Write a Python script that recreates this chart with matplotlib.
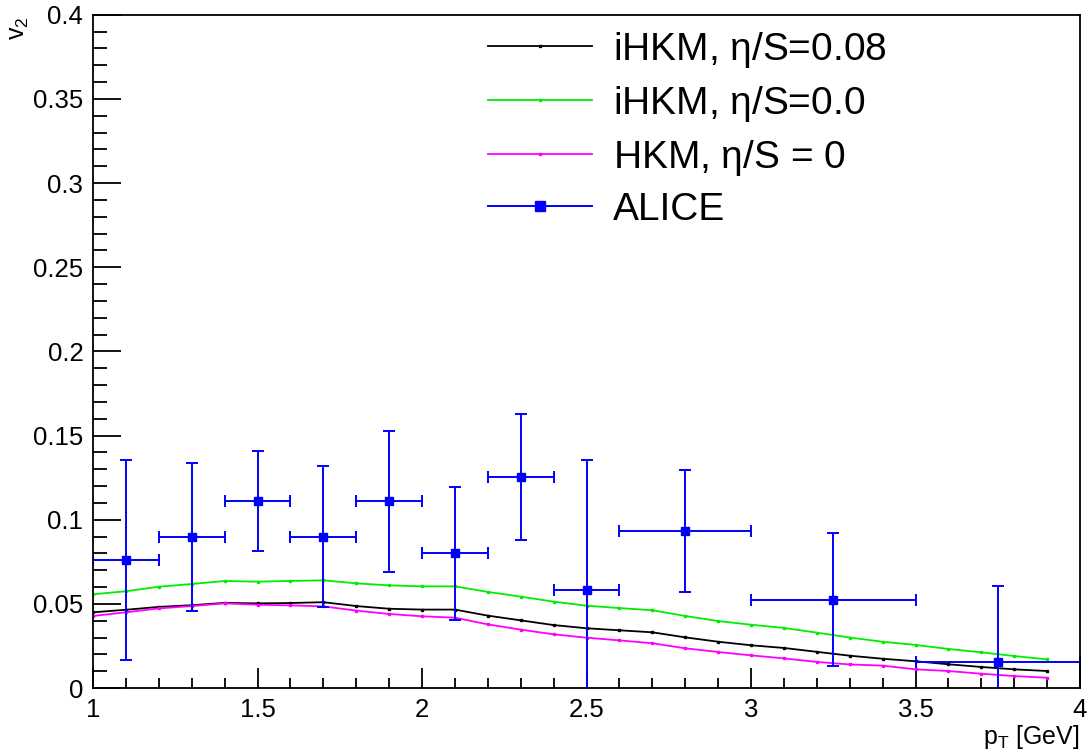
import numpy as np
import matplotlib
matplotlib.use('Agg')
from matplotlib import pyplot as plt
from matplotlib.ticker import MultipleLocator
from matplotlib.lines import Line2D

plt.rcParams['font.family'] = ['Liberation Sans', 'DejaVu Sans']
plt.rcParams['mathtext.fontset'] = 'custom'
plt.rcParams['mathtext.rm'] = 'Liberation Sans'
plt.rcParams['mathtext.it'] = 'Liberation Sans'

# model curves, pT grid 1.0 .. 3.9
pt = [1.0, 1.1, 1.2, 1.3, 1.4, 1.5, 1.6, 1.7, 1.8, 1.9, 2.0, 2.1, 2.2, 2.3, 2.4,
      2.5, 2.6, 2.7, 2.8, 2.9, 3.0, 3.1, 3.2, 3.3, 3.4, 3.5, 3.6, 3.7, 3.8, 3.9]
ihkm_008 = [0.0450, 0.0465, 0.0482, 0.0492, 0.0506, 0.0503, 0.0505, 0.0510, 0.0487, 0.0471,
            0.0466, 0.0466, 0.0430, 0.0402, 0.0374, 0.0355, 0.0343, 0.0331, 0.0301, 0.0275,
            0.0254, 0.0238, 0.0215, 0.0192, 0.0174, 0.0159, 0.0141, 0.0125, 0.0111, 0.0101]
ihkm_00 = [0.0557, 0.0575, 0.0602, 0.0618, 0.0636, 0.0632, 0.0636, 0.0640, 0.0622, 0.0610,
           0.0604, 0.0604, 0.0571, 0.0543, 0.0513, 0.0489, 0.0475, 0.0462, 0.0428, 0.0398,
           0.0376, 0.0357, 0.0329, 0.0300, 0.0275, 0.0256, 0.0232, 0.0212, 0.0190, 0.0170]
hkm_0 = [0.0428, 0.0450, 0.0473, 0.0487, 0.0503, 0.0495, 0.0491, 0.0485, 0.0460, 0.0440,
         0.0426, 0.0418, 0.0378, 0.0347, 0.0319, 0.0299, 0.0283, 0.0266, 0.0236, 0.0214,
         0.0194, 0.0176, 0.0155, 0.0140, 0.0133, 0.0111, 0.0101, 0.0085, 0.0071, 0.0061]

# ALICE data
alice_x = [1.1, 1.3, 1.5, 1.7, 1.9, 2.1, 2.3, 2.5, 2.8, 3.25, 3.75]
alice_xerr = [0.1, 0.1, 0.1, 0.1, 0.1, 0.1, 0.1, 0.1, 0.2, 0.25, 0.25]
alice_y = [0.0760, 0.0900, 0.1112, 0.0900, 0.1110, 0.0800, 0.1254, 0.0580, 0.0935, 0.0525, 0.0155]
alice_yerr = [0.0595, 0.0440, 0.0298, 0.0420, 0.0420, 0.0395, 0.0375, 0.0775, 0.0362, 0.0395, 0.0450]

labels = [r'iHKM, $\eta$/S=0.08', r'iHKM, $\eta$/S=0.0', r'HKM, $\eta$/S = 0', 'ALICE']
colors = ['black', '#00ee00', '#ff00ff', '#0000ff']

fig = plt.figure(figsize=(10.87, 7.53), dpi=100)
ax = fig.add_axes([0.0856, 0.0863, 0.908, 0.894])

ax.plot(pt, ihkm_008, c=colors[0], lw=1.3, marker='s', ms=2)
ax.plot(pt, ihkm_00, c=colors[1], lw=1.3, marker='s', ms=2)
ax.plot(pt, hkm_0, c=colors[2], lw=1.3, marker='s', ms=2)
ax.errorbar(alice_x, alice_y, xerr=alice_xerr, yerr=alice_yerr, fmt='s', c=colors[3],
            ms=6, lw=1.4, capsize=4, capthick=1.4)

ax.set_xlim(1, 4)
ax.set_ylim(0, 0.4)
ax.xaxis.set_major_locator(MultipleLocator(0.5))
ax.xaxis.set_minor_locator(MultipleLocator(0.1))
ax.yaxis.set_major_locator(MultipleLocator(0.05))
ax.yaxis.set_minor_locator(MultipleLocator(0.01))
ax.xaxis.set_major_formatter(plt.FuncFormatter(lambda v, p: '%g' % v))
ax.yaxis.set_major_formatter(plt.FuncFormatter(lambda v, p: '%g' % v))
ax.tick_params(axis='both', which='both', direction='in', width=1.3,
               labelsize=18.5, top=False, right=False)
ax.tick_params(axis='x', which='major', length=14.4, pad=7)
ax.tick_params(axis='x', which='minor', length=7.2)
ax.tick_params(axis='y', which='major', length=20, pad=7)
ax.tick_params(axis='y', which='minor', length=10)
for s in ax.spines.values():
    s.set_linewidth(1.3)

fig.text(0.006, 0.978, r'v$_2$', rotation=90, fontsize=18, ha='left', va='top')
fig.text(0.9936, 0.003, r'p$_{\rm T}$ [GeV]', fontsize=18, ha='right', va='bottom')

handles = [Line2D([], [], c=colors[i], lw=1.3, marker='s', ms=2) for i in range(3)]
handles.append(Line2D([], [], c=colors[3], lw=1.4, marker='s', ms=7))
ax.legend(handles, labels, loc='upper left', bbox_to_anchor=(0.377, 1.012), frameon=False,
          fontsize=28, handlelength=2.65, handletextpad=0.56, labelspacing=0.36,
          borderaxespad=0.2)

plt.savefig('out.png', dpi=100)
